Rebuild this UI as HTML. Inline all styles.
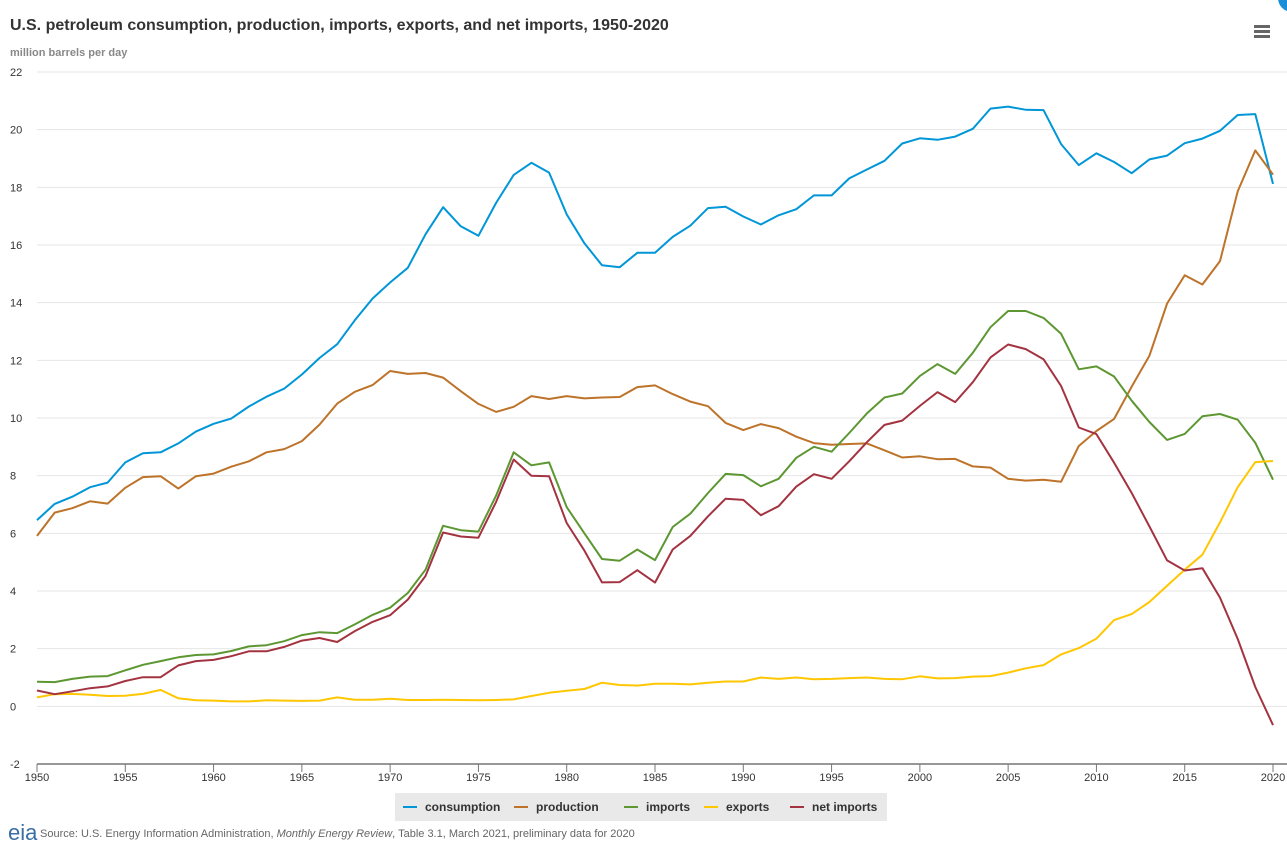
<!DOCTYPE html>
<html><head><meta charset="utf-8"><style>
body{margin:0;background:#fff;font-family:"Liberation Sans",sans-serif;}
svg text{font-family:"Liberation Sans",sans-serif;}
</style></head><body>
<svg id="chart" width="1287" height="851">
<text x="10" y="30" font-size="16" font-weight="bold" fill="#333">U.S. petroleum consumption, production, imports, exports, and net imports, 1950-2020</text>
<text x="10" y="56" font-size="11" font-weight="bold" fill="#888">million barrels per day</text>
<circle cx="1292" cy="-2" r="14" fill="#1a8fd8"/>
<g><rect x="1254" y="25" width="16" height="3" fill="#666"/><rect x="1254" y="30" width="16" height="3" fill="#666"/><rect x="1254" y="35" width="16" height="3" fill="#666"/></g>
<g id="grid"></g><g id="series"></g>
<g>
<rect x="395" y="793" width="492" height="28" fill="#e9e9e9"/>
<g id="legend"></g></g>
<text x="8" y="840" font-size="22" fill="#3a6ea5" font-family="Liberation Serif">eia</text>
<text x="40" y="837" font-size="11" fill="#666">Source: U.S. Energy Information Administration, <tspan font-style="italic">Monthly Energy Review</tspan>, Table 3.1, March 2021, preliminary data for 2020</text>
</svg>
<script>
const years=[];for(let y=1950;y<=2020;y++)years.push(y);
const yTicks=[-2,0,2,4,6,8,10,12,14,16,18,20,22];
const xTicks=[1950,1955,1960,1965,1970,1975,1980,1985,1990,1995,2000,2005,2010,2015,2020];
const seriesNames=["consumption","production","imports","exports","net imports"];
const seriesColors=["#0096d7","#bd732a","#5d9732","#ffc702","#a33340"];
const consumption=[6.46,7.02,7.27,7.6,7.76,8.46,8.78,8.81,9.12,9.53,9.8,9.98,10.4,10.74,11.02,11.51,12.08,12.56,13.39,14.14,14.7,15.21,16.37,17.31,16.65,16.32,17.46,18.43,18.85,18.51,17.06,16.06,15.3,15.23,15.73,15.73,16.28,16.67,17.28,17.33,16.99,16.71,17.03,17.24,17.72,17.72,18.31,18.62,18.92,19.52,19.7,19.65,19.76,20.03,20.73,20.8,20.69,20.68,19.5,18.77,19.18,18.88,18.49,18.97,19.1,19.53,19.69,19.96,20.51,20.54,18.12];
const production=[5.91,6.72,6.87,7.11,7.03,7.58,7.95,7.98,7.55,7.98,8.07,8.31,8.5,8.81,8.92,9.2,9.77,10.5,10.91,11.14,11.63,11.53,11.56,11.4,10.93,10.49,10.21,10.39,10.76,10.66,10.76,10.68,10.71,10.73,11.07,11.13,10.83,10.57,10.41,9.83,9.58,9.79,9.65,9.35,9.13,9.07,9.1,9.12,8.88,8.63,8.67,8.57,8.58,8.32,8.28,7.89,7.83,7.86,7.79,9.03,9.55,9.97,11.09,12.16,13.97,14.95,14.63,15.44,17.86,19.28,18.44];
const imports=[0.85,0.84,0.95,1.03,1.05,1.25,1.44,1.57,1.7,1.78,1.8,1.92,2.08,2.12,2.26,2.47,2.57,2.54,2.84,3.17,3.42,3.93,4.74,6.26,6.11,6.06,7.31,8.81,8.36,8.46,6.91,6.0,5.11,5.05,5.44,5.07,6.22,6.68,7.4,8.06,8.02,7.63,7.89,8.62,9.0,8.83,9.48,10.16,10.71,10.85,11.46,11.87,11.53,12.26,13.15,13.71,13.71,13.47,12.92,11.69,11.79,11.44,10.6,9.86,9.24,9.45,10.06,10.14,9.94,9.14,7.86];
const exports_=[0.31,0.42,0.43,0.4,0.36,0.37,0.43,0.57,0.28,0.21,0.2,0.17,0.17,0.21,0.2,0.19,0.2,0.31,0.23,0.23,0.26,0.22,0.22,0.23,0.22,0.21,0.22,0.24,0.36,0.47,0.54,0.6,0.82,0.74,0.72,0.78,0.78,0.76,0.82,0.86,0.86,1.0,0.95,1.0,0.94,0.95,0.98,1.0,0.95,0.94,1.04,0.97,0.98,1.03,1.05,1.17,1.32,1.43,1.8,2.02,2.35,2.99,3.2,3.62,4.18,4.74,5.26,6.38,7.6,8.47,8.51];
const netImports=[0.55,0.42,0.52,0.63,0.69,0.88,1.01,1.01,1.42,1.57,1.61,1.74,1.91,1.91,2.06,2.28,2.37,2.23,2.61,2.93,3.16,3.7,4.52,6.03,5.89,5.85,7.09,8.56,8.0,7.98,6.36,5.4,4.3,4.31,4.72,4.29,5.44,5.91,6.59,7.2,7.16,6.63,6.94,7.62,8.05,7.89,8.5,9.16,9.76,9.91,10.42,10.9,10.55,11.24,12.1,12.55,12.39,12.04,11.11,9.67,9.44,8.45,7.4,6.24,5.06,4.71,4.79,3.77,2.34,0.67,-0.65];
const allSeries=[consumption,production,imports,exports_,netImports];
const L=37,R=1273,T=72,B=764;
const xs=y=>L+(y-1950)/(70)*(R-L);
const ys=v=>B-(v+2)/24*(B-T);
const NS="http://www.w3.org/2000/svg";
function mk(tag,attrs,parent,text){const e=document.createElementNS(NS,tag);for(const k in attrs)e.setAttribute(k,attrs[k]);if(text!=null)e.textContent=text;parent.appendChild(e);return e;}
const grid=document.getElementById('grid');
yTicks.forEach(v=>{
  if(v!==-2){const g=mk('line',{x1:L,x2:1287,y1:ys(v),y2:ys(v),stroke:'#e6e6e6'},grid);
  
  }
  const t=mk('text',{x:10,y:ys(v)+4,'font-size':11,fill:'#333'},grid,String(v));
  
  
});
const ax=mk('line',{x1:L,x2:1287,y1:B,y2:B,stroke:'#777','stroke-width':1.5},grid);


xTicks.forEach(y=>{
  mk('line',{x1:xs(y),x2:xs(y),y1:B,y2:B+8,stroke:'#777'},grid);
  const t=mk('text',{x:xs(y),y:B+17,'font-size':11,fill:'#333','text-anchor':'middle'},grid,String(y));
  
  
});
const sg=document.getElementById('series');
allSeries.forEach((arr,i)=>{
  const d=arr.map((v,j)=>(j?'L':'M')+xs(years[j]).toFixed(1)+' '+ys(v).toFixed(1)).join(' ');
  const p=mk('path',{d:d,fill:'none',stroke:seriesColors[i],'stroke-width':2,'stroke-linejoin':'round'},sg);
  
  
});
const lg=document.getElementById('legend');
const lx=[403,514,624,704,790];
seriesNames.forEach((n,i)=>{
  const g=mk('g',{},lg);
  
  
  mk('line',{x1:lx[i],x2:lx[i]+14,y1:807,y2:807,stroke:seriesColors[i],'stroke-width':2},g);
  mk('text',{x:lx[i]+22,y:811,'font-size':12,'font-weight':'bold',fill:'#333'},g,n);
});
</script>
</body></html>
